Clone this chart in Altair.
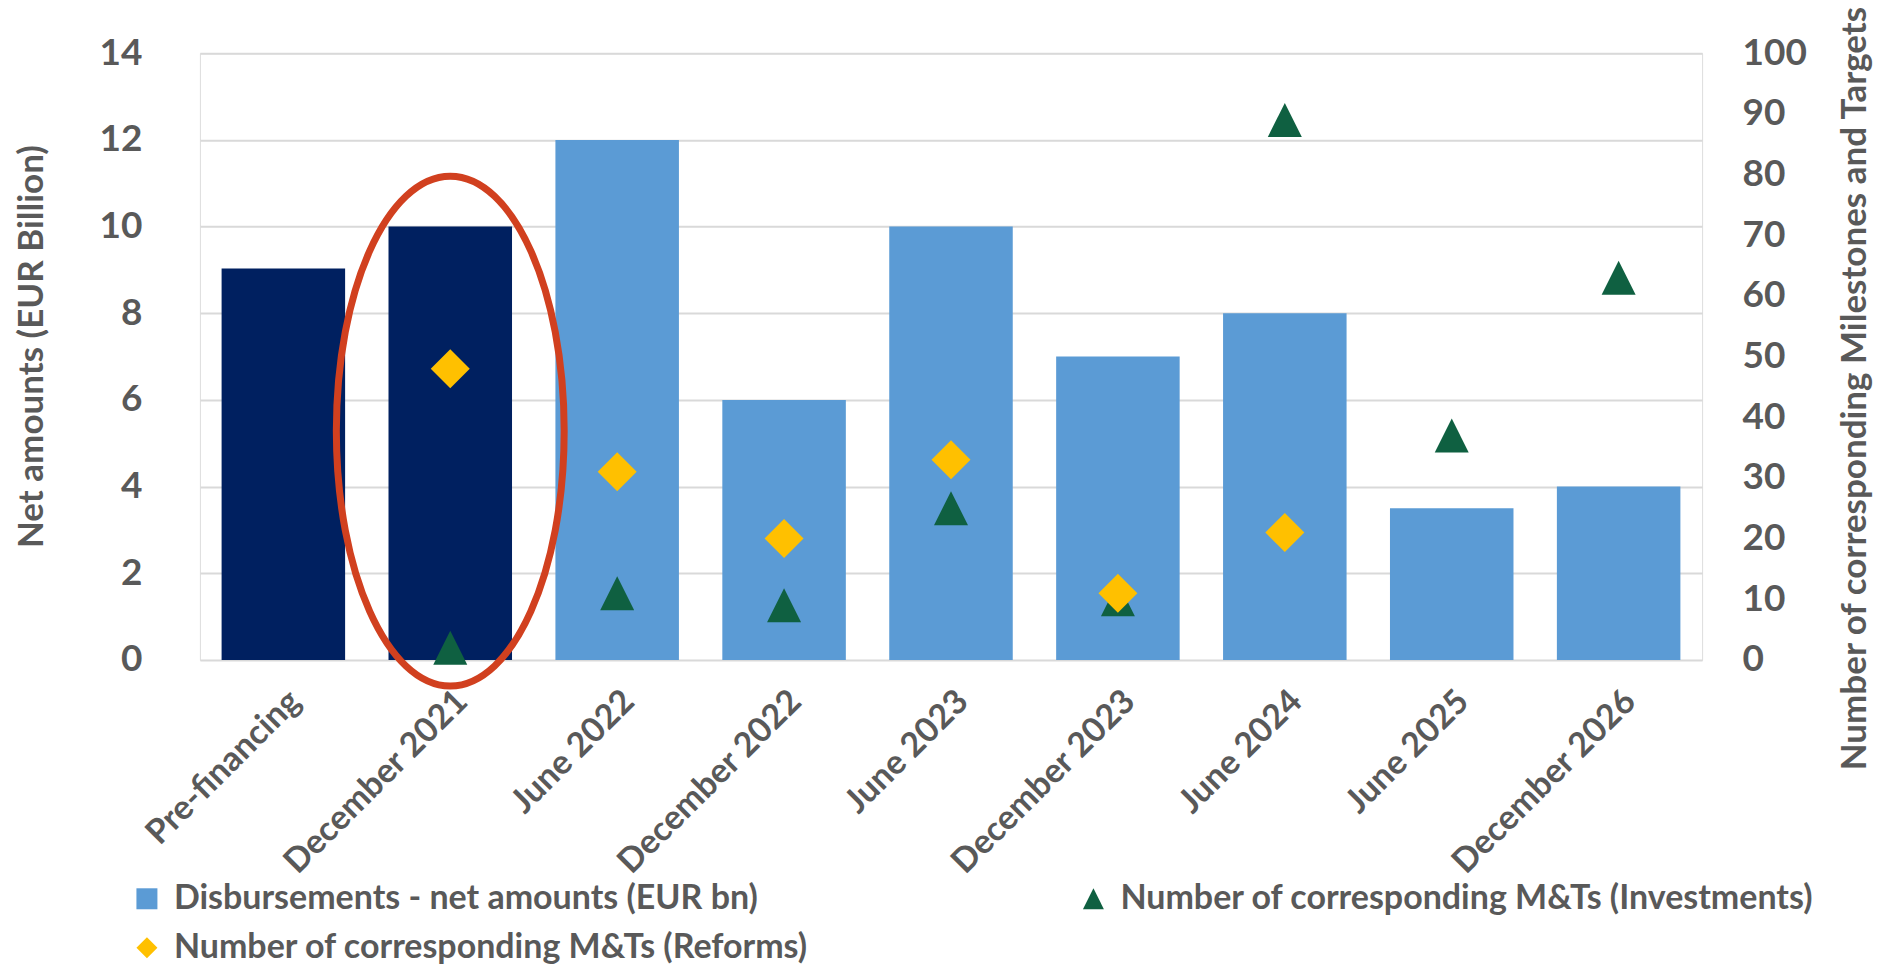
import altair as alt
import pandas as pd

categories = ["Pre-financing", "December 2021", "June 2022", "December 2022", "June 2023",
              "December 2023", "June 2024", "June 2025", "December 2026"]
disbursements = [9.03, 10, 12, 6, 10, 7, 8, 3.5, 4]
investments = [None, 2, 11, 9, 25, 10, 89, 37, 63]
reforms = [None, 48, 31, 20, 33, 11, 21, None, None]
already_paid = ["Pre-financing", "December 2021"]
highlight = ["December 2021"]
highlight_center = [5.28]

S_BAR = "Disbursements - net amounts (EUR bn)"
S_INV = "Number of corresponding M&Ts (Investments)"
S_REF = "Number of corresponding M&Ts (Reforms)"
series_domain = [S_BAR, S_REF, S_INV]

NAVY = "#002060"
LIGHT = "#5B9BD5"
GREEN = "#0F6041"
YELLOW = "#FFC000"
RED = "#D1401F"
GREY = "#595959"
FONT = "Lato"
TRI = "M0,-1L1,1L-1,1Z"
ELLIPSE = "M-0.447,0A0.447,1,0,1,0,0.447,0A0.447,1,0,1,0,-0.447,0Z"

bar_df = pd.DataFrame({"category": categories, "value": disbursements})
inv_df = pd.DataFrame({"category": categories, "count": investments}).dropna()
inv_df["series"] = S_INV
ref_df = pd.DataFrame({"category": categories, "count": reforms}).dropna()
ref_df["series"] = S_REF
ell_df = pd.DataFrame({"category": highlight, "value": highlight_center})

x_enc = alt.X(
    "category:N", sort=categories,
    scale=alt.Scale(paddingInner=0.26, paddingOuter=0.13),
    axis=alt.Axis(title=None, labelAngle=-45, labelFont=FONT, labelFontWeight="bold",
                  labelFontSize=34, labelColor=GREY, labelPadding=24, labelLimit=1000,
                  ticks=False, domain=False, grid=False),
)

left_title = "Net amounts (EUR Billion)"
left_axis = alt.Axis(values=list(range(0, 15, 2)), title=left_title, grid=True,
                     gridColor="#D9D9D9", gridWidth=2, ticks=False, domain=False,
                     labelFont=FONT, labelFontWeight="bold", labelFontSize=37,
                     labelColor=GREY, labelPadding=58,
                     titleFont=FONT, titleFontWeight="bold", titleFontSize=35,
                     titleColor=GREY, titlePadding=50, titleY=293)
y_left = alt.Scale(domain=[0, 14], nice=False, zero=True)

bars = alt.Chart(bar_df).mark_bar().encode(
    x=x_enc,
    y=alt.Y("value:Q", scale=y_left, axis=left_axis, title=left_title),
    color=alt.condition(alt.FieldOneOfPredicate(field="category", oneOf=already_paid),
                        alt.value(NAVY), alt.value(LIGHT)),
)

ellipse = alt.Chart(ell_df).mark_point(
    shape=ELLIPSE, filled=False, stroke=RED, strokeWidth=7, size=260100, opacity=1
).encode(
    x=x_enc,
    y=alt.Y("value:Q", scale=y_left, axis=left_axis, title=left_title),
)

right_title = "Number of corresponding Milestones and Targets"
right_axis = alt.Axis(orient="right", values=list(range(0, 101, 10)), title=right_title,
                      grid=False, ticks=False, domain=False,
                      labelFont=FONT, labelFontWeight="bold", labelFontSize=37,
                      labelColor=GREY, labelPadding=40,
                      titleFont=FONT, titleFontWeight="bold", titleFontSize=35,
                      titleColor=GREY, titlePadding=66, titleAngle=270, titleY=335)
y_right = alt.Scale(domain=[0, 100], nice=False, zero=True)

legend = alt.Legend(title=None, orient="none", legendX=-70, legendY=829, columns=2,
                    values=series_domain,
                    columnPadding=267, rowPadding=15, symbolSize=441, symbolStrokeWidth=0,
                    labelFont=FONT, labelFontWeight="bold", labelFontSize=34,
                    labelColor=GREY, labelLimit=1000, labelOffset=10)
color_enc = alt.Color("series:N", scale=alt.Scale(domain=series_domain, range=[LIGHT, YELLOW, GREEN]),
                      legend=legend)
shape_enc = alt.Shape("series:N", scale=alt.Scale(domain=series_domain, range=["square", "diamond", TRI]),
                      legend=legend)

tri = alt.Chart(inv_df).mark_point(filled=True, opacity=1, size=1156).encode(
    x=x_enc,
    y=alt.Y("count:Q", scale=y_right, axis=right_axis, title=right_title),
    color=color_enc, shape=shape_enc,
)
dia = alt.Chart(ref_df).mark_point(filled=True, opacity=1, size=1521).encode(
    x=x_enc,
    y=alt.Y("count:Q", scale=y_right, axis=right_axis, title=right_title),
    color=color_enc, shape=shape_enc,
)

chart = alt.layer(
    alt.layer(bars, ellipse),
    alt.layer(tri, dia),
).resolve_scale(y="independent").properties(
    width=1503, height=607,
    autosize=alt.AutoSizeParams(type="none"),
    padding={"left": 192, "top": 45, "right": 176, "bottom": 309},
).configure_view(stroke=None).configure(background="white")

chart.save("out.html", embed_options={"renderer": "svg", "actions": False})
